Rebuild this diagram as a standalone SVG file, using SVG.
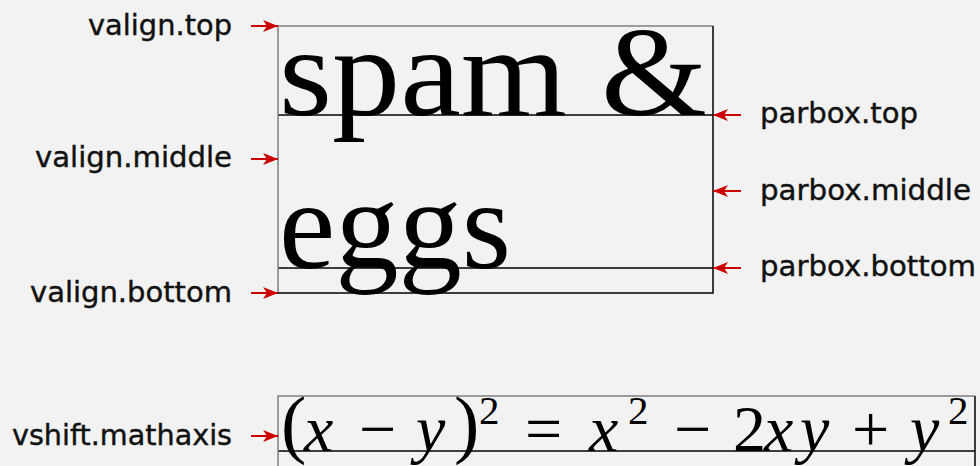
<svg xmlns="http://www.w3.org/2000/svg" width="980" height="466" viewBox="0 0 980 466">
<style>
.lbl{font-family:"DejaVu Sans","Liberation Sans",sans-serif;font-size:28px;fill:#111;stroke:#111;stroke-width:0.4}
.big{font-family:"Liberation Serif","DejaVu Serif",serif;font-size:128px;fill:#000}
.math{font-family:"Liberation Serif","DejaVu Serif",serif;font-size:66px;fill:#000}
.it{font-style:italic}
.sup{font-size:41px}
.par{font-size:76px}
.arr{stroke:#cc0000;stroke-width:2;fill:none;marker-end:url(#ah)}
.gray{stroke:#808080;stroke-width:1.5;fill:none}
.blk{stroke:#000;stroke-width:1.5;fill:none}
</style>
<defs>
<marker id="ah" viewBox="0 0 15 12" refX="15" refY="6" markerWidth="15" markerHeight="12" markerUnits="userSpaceOnUse" orient="auto">
<path d="M0,0 L15,6 L0,12 L4,6 Z" fill="#cc0000"/>
</marker>
</defs>
<rect width="980" height="466" fill="#f2f2f2"/>
<g id="box1">
<text class="big" x="279" y="115" textLength="428" lengthAdjust="spacingAndGlyphs">spam &amp;</text>
<text class="big" x="279" y="268" textLength="232" lengthAdjust="spacingAndGlyphs">eggs</text>
<line class="blk" x1="278" y1="115" x2="713" y2="115"/>
<line class="blk" x1="278" y1="268" x2="713" y2="268"/>
<path class="gray" d="M278,293 V26 H713"/>
<path class="blk" d="M713,26 V293 H278"/>
</g>
<g id="box2">
<text class="math" y="451"><tspan x="281" class="par" y="449">(</tspan><tspan x="304" y="451" class="it">x</tspan><tspan x="359">−</tspan><tspan x="416" class="it">y</tspan><tspan x="454" class="par" y="449">)</tspan><tspan x="479" y="424" class="sup">2</tspan><tspan x="525" y="451">=</tspan><tspan x="589" class="it">x</tspan><tspan x="628" y="424" class="sup">2</tspan><tspan x="674" y="451">−</tspan><tspan x="733">2</tspan><tspan x="764" class="it">x</tspan><tspan x="800" class="it">y</tspan><tspan x="852">+</tspan><tspan x="910" class="it">y</tspan><tspan x="948" y="424" class="sup">2</tspan></text>
<line class="blk" x1="278" y1="451" x2="975" y2="451"/>
<path class="gray" d="M278,470 V396 H975"/>
<line class="blk" x1="975" y1="396" x2="975" y2="470"/>
</g>
<g id="connectors">
<line class="arr" x1="251" y1="26" x2="278" y2="26"/>
<line class="arr" x1="251" y1="159" x2="278" y2="159"/>
<line class="arr" x1="251" y1="293" x2="278" y2="293"/>
<line class="arr" x1="741" y1="115" x2="713" y2="115"/>
<line class="arr" x1="741" y1="191" x2="713" y2="191"/>
<line class="arr" x1="741" y1="268" x2="713" y2="268"/>
<line class="arr" x1="251" y1="436" x2="278" y2="436"/>
</g>
<g id="labels">
<text class="lbl" x="232" y="35" text-anchor="end" textLength="144" lengthAdjust="spacingAndGlyphs">valign.top</text>
<text class="lbl" x="232" y="167" text-anchor="end" textLength="197" lengthAdjust="spacingAndGlyphs">valign.middle</text>
<text class="lbl" x="232" y="302" text-anchor="end" textLength="202" lengthAdjust="spacingAndGlyphs">valign.bottom</text>
<text class="lbl" x="760" y="123" textLength="158" lengthAdjust="spacingAndGlyphs">parbox.top</text>
<text class="lbl" x="760" y="200" textLength="211" lengthAdjust="spacingAndGlyphs">parbox.middle</text>
<text class="lbl" x="760" y="276" textLength="216" lengthAdjust="spacingAndGlyphs">parbox.bottom</text>
<text class="lbl" x="232" y="445" text-anchor="end" textLength="220" lengthAdjust="spacingAndGlyphs">vshift.mathaxis</text>
</g>
</svg>
